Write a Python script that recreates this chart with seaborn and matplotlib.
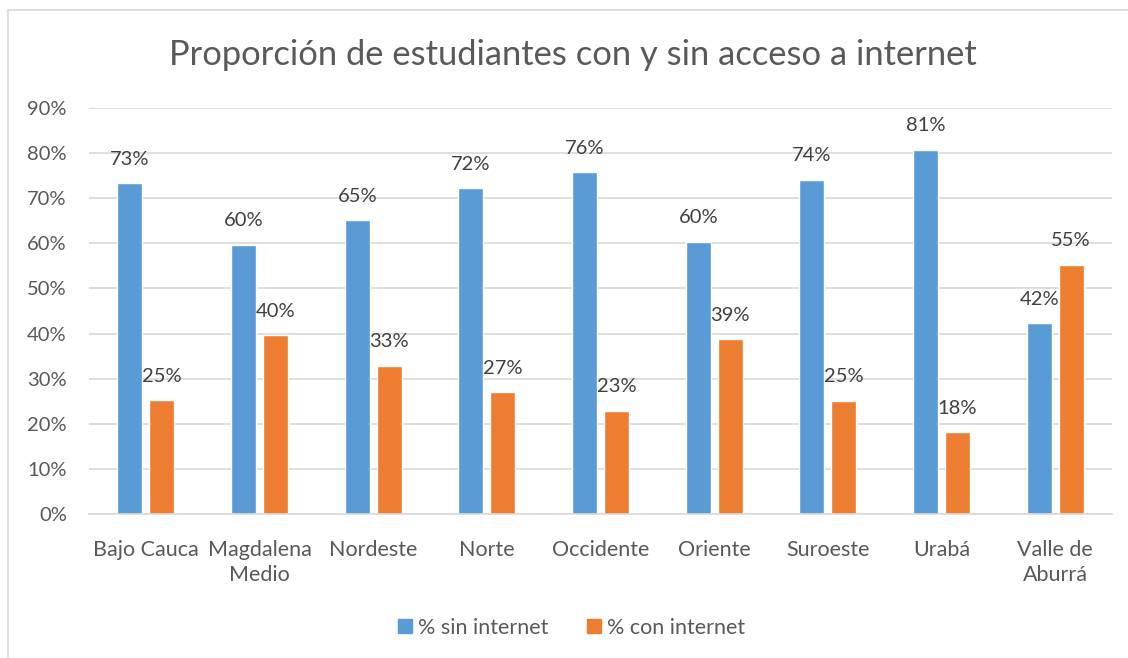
import matplotlib
matplotlib.use("Agg")
import matplotlib.pyplot as plt
import seaborn as sns
import pandas as pd
from matplotlib.lines import Line2D

# datos
regiones = ["Bajo Cauca", "Magdalena\nMedio", "Nordeste", "Norte", "Occidente",
            "Oriente", "Suroeste", "Urabá", "Valle de\nAburrá"]
sin_internet = [73.4, 59.7, 65.1, 72.3, 75.8, 60.4, 74.1, 80.8, 42.3]
con_internet = [25.3, 39.7, 32.9, 27.0, 22.9, 38.8, 25.1, 18.1, 55.3]
series = ["% sin internet", "% con internet"]
yticks = [0, 10, 20, 30, 40, 50, 60, 70, 80, 90]

df = pd.DataFrame({
    "Region": regiones * 2,
    "Serie": [series[0]] * len(regiones) + [series[1]] * len(regiones),
    "Valor": sin_internet + con_internet,
})

sns.set_theme(style="white")
plt.rcParams["font.family"] = ["Lato", "DejaVu Sans"]
gris = "#595959"

fig = plt.figure(figsize=(11.28, 6.58), dpi=100)
ax = fig.add_axes([89 / 1128, 1 - 514 / 658, (1112 - 89) / 1128, (514 - 108) / 658])

sns.barplot(data=df, x="Region", y="Valor", hue="Serie", hue_order=series,
            palette=["#5B9BD5", "#ED7D31"], width=0.56, gap=0.21,
            saturation=1, ax=ax, legend=False)

for cont in ax.containers:
    ax.bar_label(cont, labels=[f"{v:.0f}%" for v in cont.datavalues],
                 padding=11, fontsize=14.5, color="#404040")

ax.set_ylim(0, 90)
ax.set_xlim(-0.5, len(regiones) - 0.5)
ax.set_yticks(yticks)
ax.set_yticklabels([f"{t}%" for t in yticks])
ax.yaxis.grid(True, color="#d9d9d9", linewidth=1.2)
ax.set_axisbelow(True)
for s in ["top", "right", "left"]:
    ax.spines[s].set_visible(False)
ax.spines["bottom"].set_color("#d9d9d9")
ax.spines["bottom"].set_linewidth(1.2)
ax.tick_params(axis="y", length=0, labelsize=14.5, colors=gris, pad=16)
ax.tick_params(axis="x", length=0, labelsize=15.5, colors=gris, pad=19)
for lbl in ax.get_xticklabels():
    lbl.set_linespacing(1.3)
ax.set_xlabel("")
ax.set_ylabel("")

fig.text(0.508, 1 - 55 / 658, "Proporción de estudiantes con y sin acceso a internet",
         ha="center", va="center", fontsize=24.8, color=gris)

handles = [Line2D([0], [0], marker="s", linestyle="", markersize=10,
                  markerfacecolor=c, markeredgecolor=c) for c in ["#5B9BD5", "#ED7D31"]]
fig.legend(handles, series, loc="center", bbox_to_anchor=(0.505, 1 - 628 / 658),
           ncol=2, frameon=False, fontsize=15.5, labelcolor=gris,
           handletextpad=0.1, columnspacing=1.6, handlelength=1.0)

# borde del area del grafico
fig.add_artist(Line2D([8 / 1128, 8 / 1128], [0, 1 - 10 / 658], color="#d9d9d9", lw=1.2))
fig.add_artist(Line2D([8 / 1128, 1], [1 - 10 / 658, 1 - 10 / 658], color="#d9d9d9", lw=1.2))

fig.savefig("out.png", dpi=100)
